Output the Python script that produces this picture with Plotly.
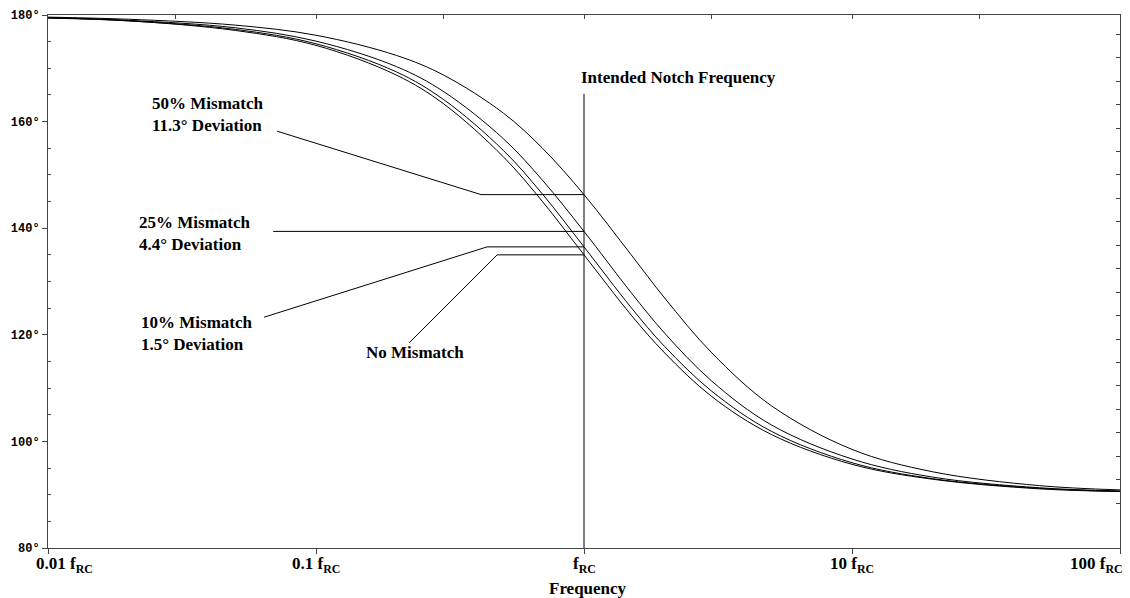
import math
import plotly.graph_objects as go

# ---------------- data ----------------
freq = [0.01, 0.02, 0.05, 0.1, 0.2, 0.3, 0.5, 0.7, 1, 1.5, 2, 3, 5, 10, 20, 50, 100]
phase_none = [179.4, 178.9, 177.1, 174.3, 168.7, 163.3, 153.4, 145.0, 135.0, 123.7, 116.6, 108.4, 101.3, 95.7, 92.9, 91.1, 90.6]
phase_10 = [179.5, 178.9, 177.3, 174.6, 169.3, 164.1, 154.6, 146.4, 136.5, 125.1, 117.8, 109.4, 101.9, 96.0, 93.0, 91.2, 90.6]
phase_25 = [179.5, 179.0, 177.6, 175.1, 170.3, 165.6, 156.8, 149.0, 139.4, 127.9, 120.3, 111.3, 103.1, 96.7, 93.3, 91.3, 90.7]
phase_50 = [179.6, 179.2, 178.1, 176.2, 172.4, 168.7, 161.6, 155.0, 146.3, 135.0, 126.9, 116.6, 106.7, 98.5, 94.3, 91.7, 90.9]

x_tickvals = [0.01, 0.1, 1, 10, 100]
x_ticktext = ["0.01 f<sub>RC</sub>", "0.1 f<sub>RC</sub>", "f<sub>RC</sub>", "10 f<sub>RC</sub>", "100 f<sub>RC</sub>"]
x_label_anchor = ["left", "center", "center", "center", "right"]
x_label_shift = [-14, 0, 0, 0, 5]
y_tickvals = [80, 100, 120, 140, 160, 180]
y_ticktext = [f"<b>{v}°</b>" for v in y_tickvals]
top_tickvals = [0.03, 0.1, 0.3, 1, 3, 10, 30]
right_tickvals = [176.4 - 4.4 * k for k in range(21)]

notch_f = 1
FONT = "Liberation Serif"
BLACK = "black"

fig = go.Figure()
for ys in [phase_none, phase_10, phase_25, phase_50]:
    fig.add_trace(go.Scatter(x=freq, y=ys, mode="lines",
                             line=dict(color=BLACK, width=1, shape="spline", smoothing=1.0),
                             showlegend=False, hoverinfo="skip"))

i1 = freq.index(notch_f)

# notch vertical line
fig.add_trace(go.Scatter(x=[notch_f, notch_f], y=[80, 165.2], mode="lines", line=dict(color=BLACK, width=1),
                         showlegend=False, hoverinfo="skip"))


def leader(points):
    fig.add_trace(go.Scatter(x=[p[0] for p in points], y=[p[1] for p in points], mode="lines",
                             line=dict(color=BLACK, width=1), showlegend=False, hoverinfo="skip"))


leader([(0.0716, 158.2), (0.413, phase_50[i1]), (notch_f, phase_50[i1])])
leader([(0.0692, phase_25[i1]), (notch_f, phase_25[i1])])
leader([(0.064, 123.3), (0.435, phase_10[i1]), (notch_f, phase_10[i1])])
leader([(0.2228, 118.5), (0.474, phase_none[i1]), (notch_f, phase_none[i1])])


def label(text, f, p):
    fig.add_annotation(x=math.log10(f), y=p, xref="x", yref="y", text=text, showarrow=False,
                       xanchor="left", yanchor="middle", align="left",
                       font=dict(family=FONT, size=17, color=BLACK))


label("<b>Intended Notch Frequency</b>", 0.959, 168.2)
label("<b>50% Mismatch<br>11.3° Deviation</b>", 0.0241, 161.4)
label("<b>25% Mismatch<br>4.4° Deviation</b>", 0.0215, 139.0)
label("<b>10% Mismatch<br>1.5° Deviation</b>", 0.0219, 120.2)
label("<b>No Mismatch</b>", 0.1514, 116.6)

# x tick labels (edge labels pulled inside the figure like the original)
for v, t, a, s in zip(x_tickvals, x_ticktext, x_label_anchor, x_label_shift):
    fig.add_annotation(x=math.log10(v), y=0, xref="x", yref="paper", text=f"<b>{t}</b>", showarrow=False,
                       xanchor=a, yanchor="top", xshift=s, yshift=-4,
                       font=dict(family=FONT, size=17, color=BLACK))

fig.add_annotation(x=0.5, y=0, xref="paper", yref="paper", text="<b>Frequency</b>", showarrow=False,
                   xanchor="center", yanchor="top", xshift=4, yshift=-29,
                   font=dict(family=FONT, size=17, color=BLACK))

fig.update_layout(
    width=1130, height=598,
    margin=dict(l=48, r=10, t=15, b=50),
    paper_bgcolor="white", plot_bgcolor="white",
    xaxis=dict(type="log", range=[-2, 2], showgrid=False, zeroline=False, showline=True, linecolor="#444",
               linewidth=1, tickvals=x_tickvals, ticks="outside", ticklen=5, tickcolor="#444",
               showticklabels=False),
    xaxis2=dict(type="log", range=[-2, 2], overlaying="x", side="top", showgrid=False, zeroline=False,
                showline=True, linecolor="#444", linewidth=1, tickvals=top_tickvals, ticks="inside", ticklen=4,
                tickcolor="#444", showticklabels=False),
    yaxis=dict(range=[80, 180], showgrid=False, zeroline=False, showline=True, linecolor="#444", linewidth=1,
               tickvals=y_tickvals, ticktext=y_ticktext, ticks="outside", ticklen=5, tickcolor="#444",
               tickfont=dict(family="Liberation Mono", size=12, color=BLACK),
               minor=dict(tickvals=[v for v in range(85, 180, 5) if v % 20 != 0], ticks="inside", ticklen=3,
                          tickcolor="#444")),
    yaxis2=dict(range=[80, 180], overlaying="y", side="right", showgrid=False, zeroline=False, showline=True,
                linecolor="#444", linewidth=1, tickvals=right_tickvals, ticks="inside", ticklen=4,
                tickcolor="#444", showticklabels=False),
)
fig.add_trace(go.Scatter(x=[1], y=[80], xaxis="x2", yaxis="y2", mode="markers", marker=dict(opacity=0),
                         showlegend=False, hoverinfo="skip"))

fig.write_html("out.html")
